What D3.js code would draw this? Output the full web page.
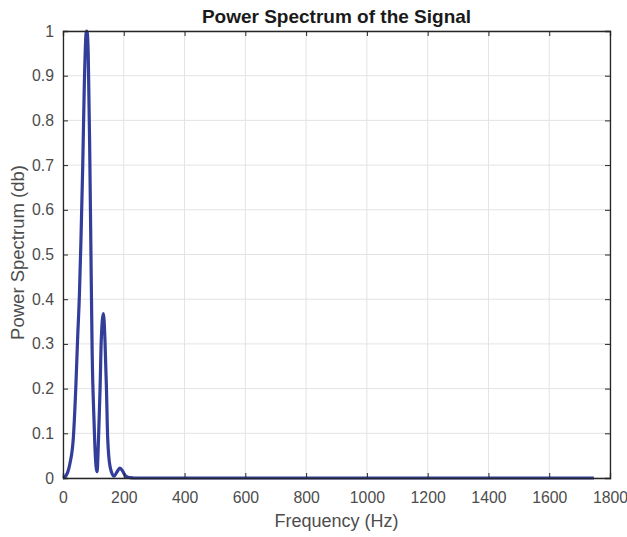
<!DOCTYPE html>
<html><head><meta charset="utf-8">
<script src="https://cdn.jsdelivr.net/npm/d3@7"></script>
<style>body{margin:0;background:#fff}svg{display:block}</style>
</head><body>
<script>
// Data
const freqs = [0, 7, 15, 23, 34, 42, 48, 54, 59, 65, 70, 76, 78, 80, 83, 88, 92, 96, 102, 106, 112, 117, 122, 126, 133, 138, 143, 147, 155, 168, 178, 187, 196, 204, 212, 220, 235, 250, 300, 400, 600, 800, 1000, 1200, 1400, 1600, 1747];
const power = [0, 0.003, 0.012, 0.033, 0.09, 0.2, 0.31, 0.41, 0.53, 0.70, 0.875, 0.995, 1.0, 0.995, 0.95, 0.73, 0.50, 0.28, 0.13, 0.055, 0.014, 0.09, 0.2, 0.31, 0.368, 0.31, 0.2, 0.09, 0.025, 0.004, 0.014, 0.022, 0.016, 0.006, 0.002, 0.001, 0, 0, 0, 0, 0, 0, 0, 0, 0, 0, 0];
const xTicks = [0, 200, 400, 600, 800, 1000, 1200, 1400, 1600, 1800];
const yTicks = [0, 0.1, 0.2, 0.3, 0.4, 0.5, 0.6, 0.7, 0.8, 0.9, 1];

const W = 627, H = 537;
const m = {left: 63, right: 17, top: 31, bottom: 59};
const iw = W - m.left - m.right, ih = H - m.top - m.bottom;
const font = "'Liberation Sans', Arial, Helvetica, sans-serif";

const svg = d3.select("body").append("svg").attr("width", W).attr("height", H);
const g = svg.append("g").attr("transform", `translate(${m.left},${m.top})`);

const x = d3.scaleLinear().domain([0, 1800]).range([0, iw]);
const y = d3.scaleLinear().domain([0, 1]).range([ih, 0]);

// grid
g.append("g").selectAll("line").data(xTicks).join("line")
  .attr("x1", d => x(d)).attr("x2", d => x(d)).attr("y1", 0).attr("y2", ih)
  .attr("stroke", "#e3e3e3").attr("stroke-width", 1);
g.append("g").selectAll("line").data(yTicks).join("line")
  .attr("x1", 0).attr("x2", iw).attr("y1", d => y(d)).attr("y2", d => y(d))
  .attr("stroke", "#e3e3e3").attr("stroke-width", 1);

// data line
const line = d3.line().x((d, i) => x(freqs[i])).y((d, i) => y(power[i])).curve(d3.curveMonotoneX);
g.append("path").datum(power).attr("d", line)
  .attr("fill", "none").attr("stroke", "#333d9a").attr("stroke-width", 3.2).attr("stroke-linejoin", "round");

// axes
const axColor = "#262626";
const axB = g.append("g").attr("transform", `translate(0,${ih})`)
  .call(d3.axisBottom(x).tickValues(xTicks).tickSize(-5).tickPadding(14).tickFormat(d3.format("d")));
const axT = g.append("g").call(d3.axisTop(x).tickValues(xTicks).tickSize(-5).tickFormat(""));
const axL = g.append("g")
  .call(d3.axisLeft(y).tickValues(yTicks).tickSize(-5).tickPadding(9).tickFormat(d => d === 0 || d === 1 ? d3.format("d")(d) : d3.format(".1f")(d)));
const axR = g.append("g").attr("transform", `translate(${iw},0)`)
  .call(d3.axisRight(y).tickValues(yTicks).tickSize(-5).tickFormat(""));
[axB, axT, axL, axR].forEach(a => {
  a.select(".domain").attr("stroke", axColor).attr("stroke-width", 1.3);
  a.selectAll(".tick line").attr("stroke", axColor);
  a.selectAll("text").attr("fill", "#4d4d4d").style("font-family", font).style("font-size", "15.8px");
});

// labels
svg.append("text").attr("x", m.left + iw / 2).attr("y", 22.5).attr("text-anchor", "middle")
  .style("font-family", font).style("font-weight", "bold").style("font-size", "19px").attr("fill", "#1a1a1a")
  .text("Power Spectrum of the Signal");
svg.append("text").attr("x", m.left + iw / 2).attr("y", 526.5).attr("text-anchor", "middle")
  .style("font-family", font).style("font-size", "18px").attr("fill", "#4d4d4d")
  .text("Frequency (Hz)");
svg.append("text").attr("transform", `translate(24,${m.top + ih / 2 - 2}) rotate(-90)`).attr("text-anchor", "middle")
  .style("font-family", font).style("font-size", "18.5px").attr("fill", "#4d4d4d")
  .text("Power Spectrum (db)");
</script>
</body></html>
